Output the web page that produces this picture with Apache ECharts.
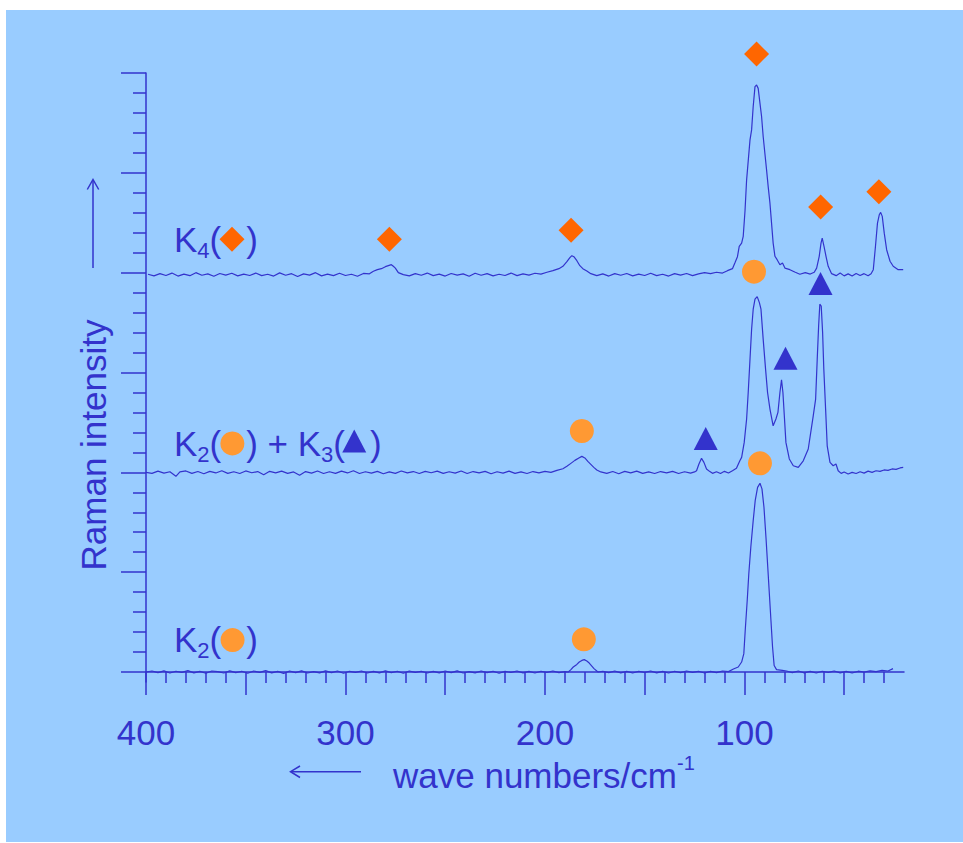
<!DOCTYPE html>
<html><head><meta charset="utf-8">
<script src="https://cdn.jsdelivr.net/npm/echarts@6/dist/echarts.min.js"></script>
<style>
html,body{margin:0;padding:0;background:#fff;width:963px;height:843px;overflow:hidden}
#c{position:absolute;left:6px;top:10px;width:957px;height:832px}
</style>
</head><body><div id="c"></div>
<script>
// ---- spectra: [wave number, intensity above own baseline] ----
const k4 = [
[399,0.02],[396,-0.06],[393,0.05],[390,-0.04],[387,0.08],[384,-0.07],[381,0.03],[378,-0.05],[375,0.1],[372,-0.03],
[369,0.04],[366,-0.08],[363,0.06],[360,-0.02],[357,0.07],[354,-0.06],[351,0.03],[348,-0.04],[345,0.08],[342,-0.05],
[339,0.02],[336,-0.07],[333,0.09],[330,-0.03],[327,0.05],[324,-0.09],[321,0.04],[318,-0.02],[315,0.1],[312,-0.06],
[309,0.03],[306,-0.05],[303,0.07],[300,-0.04],[297,0.02],[294,-0.08],[291,0.06],[288,0.04],[286,0.17],[284,0.25],
[282,0.3],[280,0.4],[278.5,0.45],[277,0.5],[276,0.42],[275,0.33],[273.5,0.1],[271,0.0],[268,-0.06],[265,0.05],
[262,-0.03],[259,0.08],[256,-0.05],[253,0.03],[250,-0.07],[247,0.06],[244,-0.02],[241,0.04],[238,-0.08],[235,0.07],
[232,-0.03],[229,0.05],[226,-0.06],[223,0.02],[220,-0.04],[217,0.08],[214,-0.05],[211,0.04],[208,-0.02],[205,0.07],
[202,0.03],[199,0.12],[196,0.2],[193,0.3],[191,0.42],[189,0.65],[187.5,0.85],[186.5,0.95],[185.5,0.9],[184,0.7],
[182.5,0.45],[181,0.3],[179,0.18],[177,0.05],[174,-0.05],[171,0.04],[168,-0.07],[165,0.05],[162,-0.03],[159,0.06],
[156,-0.06],[153,0.03],[150,-0.04],[147,0.07],[144,-0.05],[141,0.02],[138,-0.07],[135,0.05],[132,-0.02],[129,0.06],
[126,-0.05],[123,0.04],[120,0.1],[117,0.05],[114,0.12],[111,0.08],[108.5,0.2],[106,0.3],[104.8,0.58],[103.5,0.9],
[102.6,1.42],[101.4,1.58],[100.6,1.92],[99.7,3.2],[98.9,4.75],[97.2,6.75],[96.4,7.25],[95.6,8.42],[94.7,9.42],[93.9,9.5],
[93.1,9.33],[92.2,8.58],[91.4,7.92],[90.6,6.92],[88.9,5.25],[88.1,4.42],[87.2,3.58],[86.4,2.58],[85.6,1.58],[84.7,0.92],
[83.6,0.75],[82.2,0.5],[80.9,0.58],[79.7,0.33],[77.2,0.25],[74.5,0.12],[72.2,0.02],[69.5,0.1],[67,0.03],[65,0.12],
[63.8,0.33],[62.5,0.92],[61.6,1.58],[61.0,1.83],[60.1,1.42],[59.1,0.92],[58.0,0.42],[56.3,0.05],[54,-0.05],[52,0.08],
[50,-0.06],[48,0.04],[46,-0.07],[44,0.06],[42,-0.04],[40,0.05],[38,-0.05],[36.5,0.05],[35.4,0.25],[34.3,1.42],
[33.3,2.58],[32.4,3.0],[31.7,3.12],[30.9,2.92],[29.9,2.08],[28.7,1.25],[27.0,0.67],[25.4,0.42],[22.9,0.25],[20.4,0.25]
];
const k23 = [
[400,0.0],[397,-0.05],[394,0.06],[391,-0.04],[388,0.03],[385,-0.2],[383,0.02],[380,0.07],[377,-0.05],[374,0.04],
[371,-0.07],[368,0.05],[365,-0.03],[362,0.08],[359,-0.05],[356,0.03],[353,-0.06],[350,0.07],[347,-0.02],[344,0.04],
[341,-0.12],[338,0.05],[335,-0.03],[332,0.06],[329,-0.05],[326,0.02],[323,-0.15],[320,0.04],[317,-0.04],[314,0.07],
[311,-0.06],[308,0.03],[305,-0.05],[302,0.06],[299,-0.03],[296,0.08],[293,-0.06],[290,0.03],[287,-0.04],[284,0.05],
[281,-0.07],[278,0.02],[275,-0.05],[272,0.07],[269,-0.03],[266,0.04],[263,-0.06],[260,0.05],[257,-0.02],[254,0.06],
[251,-0.05],[248,0.03],[245,-0.04],[242,0.07],[239,-0.06],[236,0.04],[233,-0.03],[230,0.05],[227,-0.07],[224,0.03],
[221,-0.04],[218,0.06],[215,-0.05],[212,0.02],[209,-0.06],[206,0.04],[203,-0.03],[200,0.05],[197,0.0],[194,0.1],
[191,0.18],[189,0.3],[187,0.45],[185,0.6],[183,0.72],[181.5,0.8],[180,0.72],[178.5,0.55],[177,0.4],[175.5,0.25],
[174,0.12],[172,0.02],[169,-0.05],[166,0.04],[163,-0.07],[160,0.05],[157,-0.03],[154,0.06],[151,-0.05],[148,0.02],
[145,-0.06],[142,0.04],[139,-0.03],[136,0.05],[133,-0.06],[130,0.03],[127,-0.04],[125,0.02],[124,0.08],[122.8,0.42],
[121.5,0.7],[120.3,0.5],[119,0.17],[117.5,0.05],[116,-0.05],[114,0.03],[112,-0.06],[110,0.05],[108,-0.03],[106,0.08],
[104,0.2],[102.3,0.58],[101.4,0.75],[100.1,1.5],[98.9,2.67],[98.1,4.0],[97.2,5.67],[96.4,7.17],[95.6,8.17],[94.7,8.67],
[93.6,8.8],[92.5,8.5],[91.7,8.17],[90.6,6.67],[89.4,5.17],[88.4,4.0],[87.2,3.17],[85.6,2.33],[84.2,2.67],[83.2,3.0],
[82.2,4.0],[81.4,4.63],[80.7,4.0],[80.0,2.83],[79.2,1.5],[77.5,0.67],[75.5,0.33],[73.0,0.25],[70.5,0.58],[68.0,1.17],
[65.5,2.83],[64.3,3.67],[63.5,5.67],[62.8,7.33],[62.2,8.42],[61.5,8.33],[60.8,7.0],[60.2,5.17],[59.3,3.17],[58.5,1.33],
[57.1,0.5],[55.5,0.33],[54.1,0.42],[53.0,0.08],[51.5,-0.05],[50,0.02],[48,-0.08],[46,0.0],[44,-0.06],[42,0.03],
[40,-0.04],[38,0.06],[36,0.0],[34,0.08],[32,0.05],[30,0.12],[28,0.1],[26,0.17],[24,0.15],[22,0.22],[20.4,0.25]
];
const k2 = [
[400,0.0],[397,0.05],[394,-0.03],[391,0.06],[388,-0.05],[385,0.04],[382,-0.02],[379,0.07],[376,-0.04],[373,0.03],
[370,-0.06],[367,0.05],[364,0.02],[361,-0.05],[358,0.06],[355,-0.03],[352,0.04],[349,-0.06],[346,0.05],[343,-0.02],
[340,0.07],[337,-0.04],[334,0.03],[331,-0.07],[328,0.05],[325,-0.03],[322,0.06],[319,-0.05],[316,0.02],[313,-0.04],
[310,0.06],[307,-0.03],[304,0.05],[301,-0.06],[298,0.04],[295,-0.02],[292,0.05],[289,-0.05],[286,0.03],[283,-0.04],
[280,0.06],[277,-0.03],[274,0.04],[271,-0.06],[268,0.05],[265,-0.02],[262,0.04],[259,-0.05],[256,0.03],[253,-0.04],
[250,0.05],[247,-0.03],[244,0.06],[241,-0.05],[238,0.02],[235,-0.04],[232,0.05],[229,-0.03],[226,0.04],[223,-0.06],
[220,0.03],[217,-0.02],[214,0.05],[211,-0.04],[208,0.03],[205,-0.05],[202,0.04],[199,-0.02],[196,0.05],[193,-0.03],
[190,0.02],[188.3,0.0],[187,0.12],[185.8,0.25],[184,0.38],[182.8,0.5],[181.5,0.58],[180.3,0.62],[179,0.55],[177.8,0.45],
[176.5,0.3],[175.4,0.17],[174,0.05],[173.3,0.0],[171,0.04],[168,-0.03],[165,0.05],[162,-0.04],[159,0.03],[156,-0.05],
[153,0.04],[150,-0.02],[147,0.05],[144,-0.04],[141,0.03],[138,-0.05],[135,0.04],[132,-0.03],[129,0.05],[126,-0.02],
[123,0.04],[120,-0.05],[117,0.03],[114,-0.03],[111,0.05],[108,0.02],[105.5,0.15],[103.1,0.25],[101.4,0.5],[100.3,0.92],
[99.6,2.08],[98.6,3.58],[97.8,4.92],[96.8,6.25],[95.6,7.58],[94.6,8.58],[93.4,9.25],[92.2,9.45],[91.2,9.17],[90.2,8.25],
[89.2,6.75],[88.4,5.42],[87.6,4.08],[86.7,2.58],[85.9,1.25],[85.1,0.33],[83.9,0.12],[81,0.08],[78.9,0.05],[76,-0.03],
[73,0.05],[70,-0.04],[67,0.03],[64,-0.05],[61,0.04],[58,-0.02],[55,0.05],[52,-0.04],[49,0.03],[46,-0.05],
[43,0.04],[40,0.0],[37,0.06],[34,0.02],[31,0.08],[28,0.05],[25.5,0.17]
];
const baselines = { k4: 19.9, k23: 10.0, k2: 0.0 };

// ---- peak markers: [wave number, axis value] ----
const diamonds  = [[93.9,30.95],[61.8,23.29],[32.6,24.05],[278.0,21.67],[186.9,22.13],[356.9,21.68]];
const circles   = [[95.2,20.05],[92.2,10.45],[181.5,12.07],[180.5,1.64],[356.7,11.45],[356.6,1.60]];
const triangles = [[61.85,19.46],[79.4,15.72],[119.4,11.7],[295.6,11.57]];

// ---- ticks ----
const xLabelValues = [400,300,200,100];
const xMajorTicks = [400,350,300,250,200,150,100,50];
const xMinorTicks = [390,380,370,360,340,330,320,310,290,280,270,260,240,230,220,210,190,180,170,160,140,130,120,110,90,80,70,60,40,30];
const yMajorTicks = [0,5,10,15,20,25,30];
const yMinorTicks = [1,2,3,4,6,7,8,9,11,12,13,14,16,17,18,19,21,22,23,24,26,27,28,29];

const BLUE = '#3333CC';
const FONT = 'Liberation Sans, Arial, sans-serif';

const chart = echarts.init(document.getElementById('c'), null, {renderer: 'svg'});

function trace(arr, base) { return arr.map(p => [p[0], p[1] + base]); }

const axisCommonX = { type:'value', min:20, max:400, inverse:true, position:'bottom', splitLine:{show:false} };
const axisCommonY = { type:'value', min:-0.5, max:30, position:'left', splitLine:{show:false} };

const richK = {
  k: { fontSize: 35, fontFamily: FONT, fill: BLUE, lineHeight: 44 },
  s: { fontSize: 22, fontFamily: FONT, fill: BLUE, lineHeight: 18, verticalAlign: 'bottom' },
  g: { width: 25, fontSize: 35, lineHeight: 44 }
};

chart.setOption({
  animation: false,
  backgroundColor: '#99CCFF',
  grid: { left: 140, top: 63, right: 59, bottom: 160, containLabel: false, outerBoundsMode: 'none' },
  xAxis: [
    Object.assign({}, axisCommonX, {
      axisLine: { show: true, lineStyle: { color: BLUE, width: 1.5 } },
      axisTick: { show: true, customValues: xMajorTicks, length: 23, lineStyle: { color: BLUE, width: 1.5 } },
      axisLabel: { show: true, customValues: xLabelValues, fontSize: 35, fontFamily: FONT, color: BLUE, margin: 33 }
    }),
    Object.assign({}, axisCommonX, {
      axisLine: { show: false },
      axisTick: { show: true, customValues: xMinorTicks, length: 11, lineStyle: { color: BLUE, width: 1.5 } },
      axisLabel: { show: false }
    })
  ],
  yAxis: [
    Object.assign({}, axisCommonY, {
      axisLine: { show: true, lineStyle: { color: BLUE, width: 1.5 } },
      axisTick: { show: true, customValues: yMajorTicks, length: 25, lineStyle: { color: BLUE, width: 1.5 } },
      axisLabel: { show: false }
    }),
    Object.assign({}, axisCommonY, {
      axisLine: { show: false },
      axisTick: { show: true, customValues: yMinorTicks, length: 13, lineStyle: { color: BLUE, width: 1.5 } },
      axisLabel: { show: false }
    })
  ],
  series: [
    { name:'K4', type:'line', data: trace(k4, baselines.k4), showSymbol:false, symbol:'none', lineStyle:{ color: BLUE, width: 1.2 } },
    { name:'K2+K3', type:'line', data: trace(k23, baselines.k23), showSymbol:false, symbol:'none', lineStyle:{ color: BLUE, width: 1.2 } },
    { name:'K2', type:'line', data: trace(k2, baselines.k2), showSymbol:false, symbol:'none', lineStyle:{ color: BLUE, width: 1.2 } },
    { name:'diamond', type:'scatter', data: diamonds, symbol:'diamond', symbolSize: 25, itemStyle:{ color:'#FF6600', opacity: 1 }, clip:false, z: 5 },
    { name:'circle', type:'scatter', data: circles, symbol:'circle', symbolSize: 24, itemStyle:{ color:'#FF9933', opacity: 1 }, clip:false, z: 5 },
    { name:'triangle', type:'scatter', data: triangles, symbol:'triangle', symbolSize: [24,23], itemStyle:{ color: BLUE, opacity: 1 }, clip:false, z: 5 }
  ],
  graphic: [
    { type:'text', x: 168, y: 229, style: { text: '{k|K}{s|4}{k|(}{g| }{k|)}', rich: richK, verticalAlign: 'middle', align: 'left', fill: BLUE } },
    { type:'text', x: 168, y: 433, style: { text: '{k|K}{s|2}{k|(}{g| }{k|) + K}{s|3}{k|(}{g| }{k|)}', rich: richK, verticalAlign: 'middle', align: 'left', fill: BLUE } },
    { type:'text', x: 168, y: 629, style: { text: '{k|K}{s|2}{k|(}{g| }{k|)}', rich: richK, verticalAlign: 'middle', align: 'left', fill: BLUE } },
    { type:'text', x: 387, y: 765, style: { text: '{t|wave numbers/cm}{p|-1}', verticalAlign: 'middle', align: 'left', fill: BLUE,
        rich: { t: { fontSize: 35, fontFamily: FONT, fill: BLUE, lineHeight: 44 }, p: { fontSize: 20, fontFamily: FONT, fill: BLUE, lineHeight: 22, verticalAlign: 'top' } } } },
    { type:'text', x: 87, y: 435, rotation: Math.PI/2, style: { text: 'Raman intensity', fontSize: 35, fontFamily: FONT, fill: BLUE, align: 'center', verticalAlign: 'middle' } },
    { type:'line', shape: { x1: 285, y1: 761.7, x2: 355, y2: 761.7 }, style: { stroke: BLUE, lineWidth: 1.5 } },
    { type:'polyline', shape: { points: [[294,756],[284.5,761.7],[294,767.5]] }, style: { stroke: BLUE, lineWidth: 1.5, fill: null } },
    { type:'line', shape: { x1: 87, y1: 170, x2: 87, y2: 258 }, style: { stroke: BLUE, lineWidth: 1.5 } },
    { type:'polyline', shape: { points: [[81.3,179.5],[87,169.5],[92.7,179.5]] }, style: { stroke: BLUE, lineWidth: 1.5, fill: null } }
  ]
});
</script>
</body></html>
